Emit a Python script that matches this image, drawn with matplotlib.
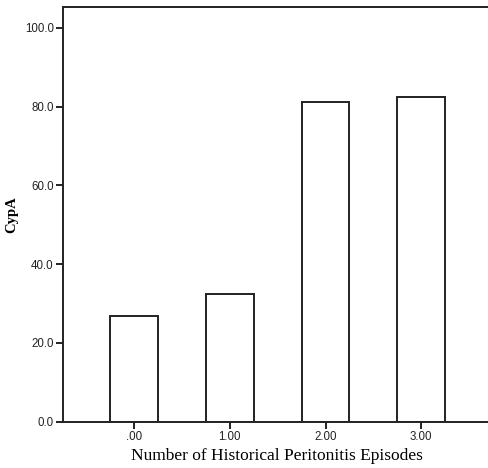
import matplotlib
matplotlib.use("Agg")
import matplotlib.pyplot as plt

# data
episodes = [0, 1, 2, 3]
tick_labels = [".00", "1.00", "2.00", "3.00"]
cypa = [26.8, 32.4, 81.3, 82.4]
y_ticks = [0, 20, 40, 60, 80, 100]

W, H = 488, 468
fig = plt.figure(figsize=(W / 100, H / 100), dpi=100)
ax_w = W - 63.5 + 2
ax = fig.add_axes([63.5 / W, (H - 421.7) / H, ax_w / W, (421.7 - 7) / H])

ax.bar(episodes, cypa, width=0.5, color="white", edgecolor="#222222", linewidth=1.4)

ax.set_xlim(-0.74, 3.72)
ax.set_ylim(0, 105.3)
ax.set_xticks(episodes)
ax.set_xticklabels(tick_labels)
ax.set_yticks(y_ticks)
ax.set_yticklabels([f"{v:.1f}" for v in y_ticks])

for s in ax.spines.values():
    s.set_linewidth(1.4)
    s.set_color("#222222")

ax.tick_params(direction="out", length=5, width=1.4, color="#222222",
               labelsize=8.3, pad=2, labelcolor="#222222")
for lab in ax.get_xticklabels() + ax.get_yticklabels():
    lab.set_fontfamily("Liberation Sans")

ax.set_xlabel("Number of Historical Peritonitis Episodes", fontfamily="Liberation Serif",
              fontsize=12.5, labelpad=3)
ax.set_ylabel("CypA", fontfamily="Liberation Serif", fontweight="bold", fontsize=10.5)
ax.yaxis.set_label_coords((18 - 63.5) / ax_w, 0.5)

fig.savefig("out.png", dpi=100)
